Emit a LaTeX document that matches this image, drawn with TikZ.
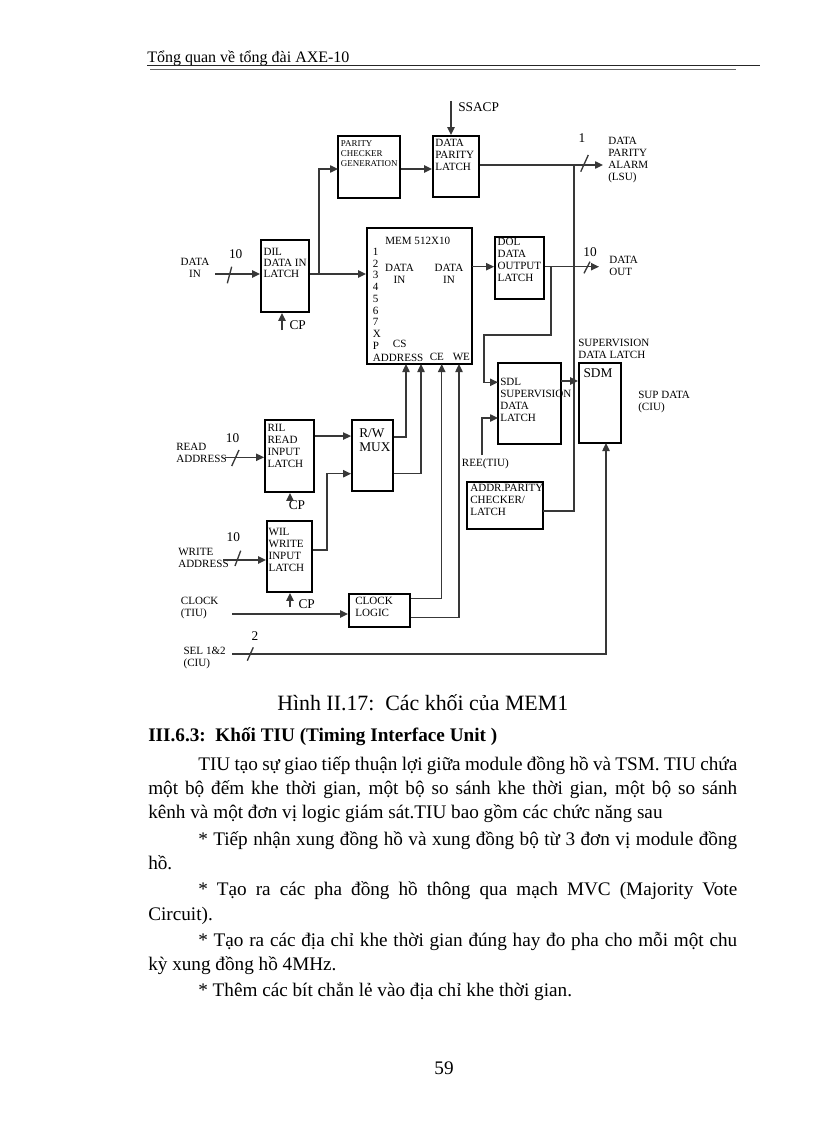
\documentclass[tikz,border=0pt]{standalone}
\usepackage{fontspec}
\setmainfont{Liberation Serif}
\usetikzlibrary{arrows.meta,fit,calc}
\begin{document}
\begin{tikzpicture}[x=0.75pt,y=-0.75pt,
  box/.style={draw=black,line width=1.4pt,inner sep=0pt},
  conn/.style={draw=black!78,line width=1pt},
  arr/.style={conn,-{Triangle[length=6pt,width=5.5pt]}},
  lb/.style={font=\fontsize{8.3}{9}\selectfont,align=left,inner sep=0pt,anchor=north west},
  lbc/.style={font=\fontsize{8.3}{9}\selectfont,align=center,inner sep=0pt,anchor=north},
  tn/.style={font=\fontsize{6.7}{7.5}\selectfont,align=left,inner sep=0pt,anchor=north west},
  bg/.style={font=\fontsize{10}{10.5}\selectfont,inner sep=0pt},
  body/.style={font=\fontsize{14.4}{17}\selectfont,inner sep=0pt,anchor=base west},
]
\fill[white] (0,0) rectangle (816,1123);
\useasboundingbox (0,0) rectangle (816,1123);

% ---------- header ----------
\node[font=\fontsize{12}{14}\selectfont,inner sep=0pt,anchor=base west] (hdr) at (147,63) {Tổng quan về tổng đài AXE-10};
\coordinate (hlA) at (147,65.5); \coordinate (hlB) at (760,65.5);
\coordinate (hlC) at (150,69.5); \coordinate (hlD) at (736,69.5);
\draw[black!85,line width=0.8pt] (hlA) -- (hlB);
\draw[black!60,line width=0.7pt] (hlC) -- (hlD);

% ---------- boxes ----------
\node[box,fit={(338,136) (400,198)}] (pcg) {};
\node[box,fit={(433,136) (479,197)}] (dpl) {};
\node[box,fit={(261,240) (309,312)}] (dil) {};
\node[box,fit={(367,228) (472,364)}] (mem) {};
\node[box,fit={(495,237) (544,299)}] (dol) {};
\node[box,fit={(498,363) (561,444)}] (sdl) {};
\node[box,fit={(579,363) (621,443)}] (sdm) {};
\node[box,fit={(467,482) (543,529)}] (apc) {};
\node[box,fit={(352,420) (393,491)}] (mux) {};
\node[box,fit={(265,420) (314,492)}] (ril) {};
\node[box,fit={(267,521) (312,592)}] (wil) {};
\node[box,fit={(349,594) (410,627)}] (clk) {};

% ---------- box texts ----------
\node[tn] (tpcg) at (340.7,139.1) {\strut PARITY\\CHECKER\\GENERATION};
\node[lb] (tdpl) at (435,138.3) {\strut DATA\\PARITY\\LATCH};
\node[lb,font=\fontsize{8.3}{8.2}\selectfont] (tdil) at (263.3,247.9) {\strut DIL\\DATA IN\\LATCH};
\node[lb] (tdol) at (497.3,236.7) {\strut DOL\\DATA\\OUTPUT\\LATCH};
\node[lb] (tsdl) at (500,377.3) {\strut SDL\\SUPERVISION\\DATA\\LATCH};
\node[bg] (tsdm) at (598,373) {SDM};
\node[lb] (tapc) at (470,483.3) {\strut ADDR.PARITY\\CHECKER/\\LATCH};
\node[bg,align=left,anchor=north west] (tmux) at (359,427.6) {\strut R/W\\MUX};
\node[lb] (tril) at (267.3,423.3) {\strut RIL\\READ\\INPUT\\LATCH};
\node[lb] (twil) at (268.3,526.7) {\strut WIL\\WRITE\\INPUT\\LATCH};
\node[lb] (tclk) at (355,595.7) {\strut CLOCK\\LOGIC};

% MEM internals
\node[font=\fontsize{8.3}{9}\selectfont,inner sep=0pt,anchor=base west] (tmem) at (385,244.2) {MEM 512X10};
\node[lb,font=\fontsize{8.3}{8.8}\selectfont] (tnum) at (372.7,247.0) {\strut 1\\2\\3\\4\\5\\6\\7\\X\\P\\ADDRESS};
\node[font=\fontsize{8.3}{9}\selectfont,inner sep=0pt,anchor=base west] (tce) at (429.5,360.8) {CE};
\node[font=\fontsize{8.3}{9}\selectfont,inner sep=0pt,anchor=base west] (twe) at (452.5,360.8) {WE};
\node[font=\fontsize{8.3}{9}\selectfont,inner sep=0pt,anchor=base west] (tcs) at (392.7,347.5) {CS};
\node[lbc] (tdi1) at (399.5,263.3) {\strut DATA\\IN};
\node[lbc] (tdi2) at (449,263.3) {\strut DATA\\IN};

% ---------- outside labels ----------
\node[lbc] (ldin) at (195,257.3) {\strut DATA\\IN};
\node[lb] (ldpa) at (608,135.7) {\strut DATA\\PARITY\\ALARM\\(LSU)};
\node[lb] (ldout) at (609,255) {\strut DATA\\OUT};
\node[lb] (lsupl) at (578,338.3) {\strut SUPERVISION\\DATA LATCH};
\node[lb] (lsupd) at (638,390) {\strut SUP DATA\\(CIU)};
\node[lb] (lrd) at (176,441.7) {\strut READ\\ADDRESS};
\node[lb] (lwr) at (178,546.7) {\strut WRITE\\ADDRESS};
\node[lb] (lclk) at (180.7,595.7) {\strut CLOCK\\(TIU)};
\node[lb] (lsel) at (183.3,646) {\strut SEL 1\&2\\(CIU)};
\node[lb] (lree) at (461.7,458) {\strut REE(TIU)};
\node[bg,anchor=west] (lss) at (458,106.7) {SSACP};

\node[bg] (n10a) at (235.7,254) {10};
\node[bg] (n10b) at (590,252) {10};
\node[bg] (n10c) at (232.5,437.7) {10};
\node[bg] (n10d) at (233.3,537.5) {10};
\node[bg] (n1) at (582,138) {1};
\node[bg] (n2) at (255,636) {2};
\node[bg] (cpa) at (297.7,325) {CP};
\node[bg] (cpb) at (297,505) {CP};
\node[bg] (cpc) at (306.7,604) {CP};

% ---------- coordinates ----------
\coordinate (diIn) at (215,274);
\coordinate (jA) at (319,274);
\coordinate (pcgI) at (338,169);
\coordinate (ssIn) at (451,101);
\coordinate (jP) at (574,165);
\coordinate (dpaOut) at (603,165);
\coordinate (rowD) at (472,266.7);
\coordinate (doOut) at (599,266.7);
\coordinate (jB) at (551,266.7);
\coordinate (bB) at (484,335);
\coordinate (sdlI1) at (498,382.3);
\coordinate (reeIn) at (482,455);
\coordinate (sdlI2) at (498,418);
\coordinate (sdlO) at (561,381);
\coordinate (apcO) at (543,511);
\coordinate (selIn) at (232,654);
\coordinate (sdmIn) at (606,443);
\coordinate (raIn) at (225,457.3);
\coordinate (waIn) at (223,560);
\coordinate (ckIn) at (232,614);
\coordinate (cp1) at (282,330);
\coordinate (cp2) at (290,499);
\coordinate (cp3) at (290,607);
\coordinate (pinA) at (406,364);
\coordinate (pinCS) at (421,364);
\coordinate (pinCE) at (441.7,364);
\coordinate (pinWE) at (459,364);
\coordinate (rilO) at ($(ril.north east)!0.23!(ril.south east)$);
\coordinate (wilO) at ($(wil.north east)!0.41!(wil.south east)$);
\coordinate (jW) at (327,550);
\coordinate (muxI2) at ($(mux.north west)!0.75!(mux.south west)$);
\coordinate (muxO1) at ($(mux.north east)!0.245!(mux.south east)$);
\coordinate (muxO2) at ($(mux.north east)!0.745!(mux.south east)$);
\coordinate (clkO1) at ($(clk.north east)!0.16!(clk.south east)$);
\coordinate (clkO2) at ($(clk.north east)!0.71!(clk.south east)$);

% ---------- connectors ----------
\draw[arr] (diIn) -- (diIn -| dil.west);
\draw[arr] (dil.east |- diIn) -- (diIn -| mem.west);
\draw[arr] (jA) |- (pcgI);
\draw[arr] (pcg.east |- pcgI) -- (pcgI -| dpl.west);
\draw[arr] (ssIn) -- (ssIn |- dpl.north);
\draw[arr] (dpl.east |- jP) -- (dpaOut);
\draw[conn] (apcO) -| (jP);
\draw[arr] (rowD) -- (rowD -| dol.west);
\draw[arr] (dol.east |- rowD) -- (doOut);
\draw[arr] (jB) |- (bB) |- (sdlI1);
\draw[arr] (reeIn) |- (sdlI2);
\draw[arr] (sdlO) -- (sdlO -| sdm.west);
\draw[arr] (selIn) -| (sdmIn);
\draw[arr] (raIn) -- (raIn -| ril.west);
\draw[arr] (waIn) -- (waIn -| wil.west);
\draw[arr] (ckIn) -- (ckIn -| clk.west);
\draw[arr] (rilO) -- (rilO -| mux.west);
\draw[arr] (wilO) -| (jW |- muxI2) -- (muxI2);
\draw[arr] (muxO1) -| (pinA);
\draw[arr] (muxO2) -| (pinCS);
\draw[arr] (clkO1) -| (pinCE);
\draw[arr] (clkO2) -| (pinWE);
\draw[arr] (cp1) -- (cp1 |- dil.south);
\draw[arr] (cp2) -- (cp2 |- ril.south);
\draw[arr] (cp3) -- (cp3 |- wil.south);

% bus slashes
\draw[conn] (227.3,283.3) -- (231.7,266.7);
\draw[conn] (231.7,466) -- (239,450);
\draw[conn] (235,566) -- (240.7,550.7);
\draw[conn] (580.7,171.7) -- (588.3,155);
\draw[conn] (584,273.3) -- (590,261.7);
\draw[conn] (247.3,660.7) -- (253.3,647.3);

% ---------- caption and text ----------
\node[font=\fontsize{16.4}{19}\selectfont,inner sep=0pt,anchor=base west] (cap) at (277,710) {Hình II.17:\ \ Các khối của MEM1};
\node[font=\fontsize{14.4}{17}\selectfont\bfseries,inner sep=0pt,anchor=base west] (head) at (148,741) {III.6.3:\ \ Khối TIU (Timing Interface Unit )};
\node[body] (t1) at (198,770) {\makebox[404.25pt][s]{TIU tạo sự giao tiếp thuận lợi giữa module đồng hồ và TSM. TIU chứa}};
\node[body] (t2) at (148,794) {\makebox[441.75pt][s]{một bộ đếm khe thời gian, một bộ so sánh khe thời gian, một bộ so sánh}};
\node[body] (t3) at (148,818.5) {kênh và một đơn vị logic giám sát.TIU bao gồm các chức năng sau};
\node[body] (t4) at (198,845) {\makebox[404.25pt][s]{* Tiếp nhận xung đồng hồ và xung đồng bộ từ 3 đơn vị module đồng}};
\node[body] (t5) at (148,869) {hồ.};
\node[body] (t6) at (198,895) {\makebox[404.25pt][s]{* Tạo ra các pha đồng hồ thông qua mạch MVC (Majority Vote}};
\node[body] (t7) at (148,920) {Circuit).};
\node[body] (t8) at (198,946.5) {\makebox[404.25pt][s]{* Tạo ra các địa chỉ khe thời gian đúng hay đo pha cho mỗi một chu}};
\node[body] (t9) at (148,970) {kỳ xung đồng hồ 4MHz.};
\node[body] (t10) at (198,996.5) {* Thêm các bít chẳn lẻ vào địa chỉ khe thời gian.};
\node[font=\fontsize{14.4}{17}\selectfont,inner sep=0pt,anchor=base] (pg) at (444,1074) {59};
\end{tikzpicture}
\end{document}
